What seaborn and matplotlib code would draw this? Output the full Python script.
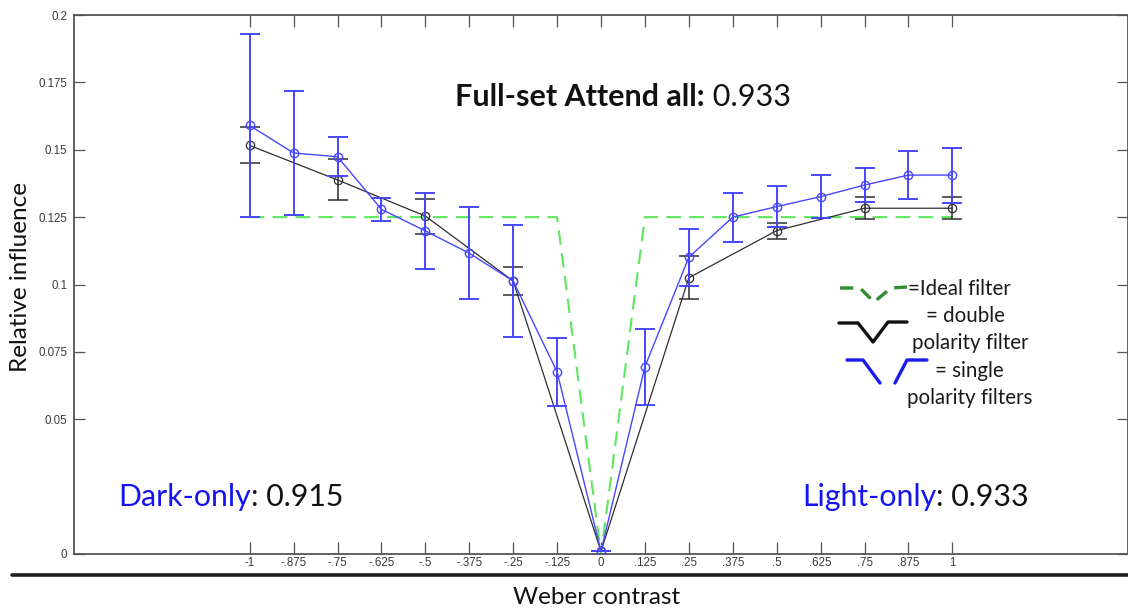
import matplotlib
matplotlib.use("Agg")
import matplotlib.pyplot as plt
import numpy as np
import pandas as pd
import seaborn as sns
from matplotlib.lines import Line2D

# Weber contrast levels and tick labels
contrast_levels = [-1, -0.875, -0.75, -0.625, -0.5, -0.375, -0.25, -0.125, 0,
                   0.125, 0.25, 0.375, 0.5, 0.625, 0.75, 0.875, 1]
x_tick_labels = ["-1", "-.875", "-.75", "-.625", "-.5", "-.375", "-.25", "-.125", "0",
                 ".125", ".25", ".375", ".5", ".625", ".75", ".875", "1"]
y_ticks = [0, 0.05, 0.075, 0.1, 0.125, 0.15, 0.175, 0.2]
y_tick_labels = ["0", "0.05", "0.075", "0.1", "0.125", "0.15", "0.175", "0.2"]

# Single polarity filters (blue): mean and error half-width
single_influence = [0.159, 0.1488, 0.1474, 0.1279, 0.1199, 0.1116, 0.1013, 0.0676, 0.001,
                    0.0695, 0.1101, 0.1250, 0.1289, 0.1326, 0.1369, 0.1406, 0.1406]
single_err = [0.034, 0.023, 0.0073, 0.0043, 0.014, 0.017, 0.0206, 0.0127, 0.0,
              0.0141, 0.0106, 0.0091, 0.0076, 0.008, 0.0063, 0.009, 0.0102]

# Double polarity filter (black)
double_contrast = [-1, -0.75, -0.5, -0.25, 0, 0.25, 0.5, 0.75, 1]
double_influence = [0.1516, 0.1388, 0.1254, 0.1013, 0.001, 0.1025, 0.1200, 0.1283, 0.1283]
double_err = [0.0067, 0.0076, 0.0065, 0.0052, 0.0, 0.008, 0.003, 0.0041, 0.0041]

# Ideal filter (green dashed)
ideal_influence = [0.125, 0.125, 0.125, 0.125, 0.125, 0.125, 0.125, 0.125, 0.0,
                   0.125, 0.125, 0.125, 0.125, 0.125, 0.125, 0.125, 0.125]

single_df = pd.DataFrame({"contrast": contrast_levels, "influence": single_influence})
double_df = pd.DataFrame({"contrast": double_contrast, "influence": double_influence})
ideal_df = pd.DataFrame({"contrast": contrast_levels, "influence": ideal_influence})

BLUE = "#4646ff"
BLACK = "#2e2e2e"
GREEN = "#5ee65e"
SPINE = "#555555"
TEXT_BLUE = "#1414f0"

sns.set_theme(style="ticks")
plt.rcParams["font.family"] = ["Lato", "DejaVu Sans"]

W, H = 1128, 609
fig = plt.figure(figsize=(W / 100, H / 100), dpi=100)
fig.patch.set_facecolor("white")


def fx(px):
    return px / W


def fy(py):
    return 1 - py / H


ax = fig.add_axes([fx(74), fy(554), (1128 - 74) / W, (554 - 15) / H])
ax.set_facecolor("white")

sns.lineplot(data=ideal_df, x="contrast", y="influence", ax=ax, color=GREEN,
             linewidth=1.5, dashes=False, zorder=1)
ax.lines[-1].set_dashes([7, 4])

ax.errorbar(double_contrast, double_influence, yerr=double_err, fmt="none",
            ecolor=BLACK, elinewidth=1.1, capsize=7, capthick=1.1, zorder=2)
sns.lineplot(data=double_df, x="contrast", y="influence", ax=ax, color=BLACK,
             linewidth=0.9, marker="o", markersize=6, markerfacecolor="none",
             markeredgecolor=BLACK, markeredgewidth=0.9, zorder=3)

ax.errorbar(contrast_levels, single_influence, yerr=single_err, fmt="none",
            ecolor=BLUE, elinewidth=1.4, capsize=7.5, capthick=1.4, zorder=4)
sns.lineplot(data=single_df, x="contrast", y="influence", ax=ax, color=BLUE,
             linewidth=1.0, marker="o", markersize=6, markerfacecolor="none",
             markeredgecolor=BLUE, markeredgewidth=1.0, zorder=5)

ax.set_xlim(-1.5, 1.5)
ax.set_ylim(0, 0.2)
ax.set_xticks(contrast_levels)
ax.set_xticklabels(x_tick_labels)
ax.set_yticks(y_ticks)
ax.set_yticklabels(y_tick_labels)
ax.set_xlabel("")
ax.set_ylabel("")

for lab in ax.get_xticklabels() + ax.get_yticklabels():
    lab.set_fontfamily(["Liberation Sans", "DejaVu Sans"])
    lab.set_fontsize(8.3)
    lab.set_color("#3a3a3a")

ax.tick_params(axis="x", direction="in", length=8.5, width=0.9, color=SPINE,
               top=True, bottom=True, pad=2.5)
ax.tick_params(axis="y", direction="in", length=8, width=0.9, color=SPINE,
               left=True, right=True, pad=5)
for s in ax.spines.values():
    s.set_color(SPINE)
    s.set_linewidth(1.3)
    s.set_visible(True)

# Axis titles
fig.text(fx(21), fy(277), "Relative influence", rotation=90, ha="center", va="center",
         fontsize=17.5, color="#111111")
fig.text(fx(597), fy(598), "Weber contrast", ha="center", va="center",
         fontsize=17.5, color="#111111")

# Separator rule under the axes
fig.add_artist(Line2D([fx(12), fx(1128)], [fy(575), fy(575)], transform=fig.transFigure,
                      color="#1e1e1e", linewidth=2.6))


def two_part(x_px, y_px, first, second, first_kw, second_kw):
    t1 = fig.text(fx(x_px), fy(y_px), first, ha="left", va="center", **first_kw)
    ax.annotate(second, xy=(1, 0), xycoords=t1, ha="left", va="bottom", **second_kw)


two_part(455, 97, "Full-set Attend all:", " 0.933",
         dict(fontsize=22, fontweight="bold", color="#111111"),
         dict(fontsize=22, color="#111111"))
two_part(118, 497, "Dark-only", ": 0.915",
         dict(fontsize=21.8, color=TEXT_BLUE),
         dict(fontsize=21.8, color="#111111"))
two_part(802, 497, "Light-only", ": 0.933",
         dict(fontsize=21.8, color=TEXT_BLUE),
         dict(fontsize=21.8, color="#111111"))

# Filter-shape key
key_shapes = [
    ([840, 860, 874, 891, 907], [288, 288, 302, 288, 287], "#2e8b2e", (0, (4, 2.5))),
    ([839, 858, 873, 888, 907], [323, 323, 342, 322, 322], "#111111", "-"),
    ([847, 863, 880], [360, 360, 383], "#1a1af0", "-"),
    ([895, 907, 927], [383, 360, 360], "#1a1af0", "-"),
]
for xs, ys, col, ls in key_shapes:
    fig.add_artist(Line2D([fx(v) for v in xs], [fy(v) for v in ys],
                          transform=fig.transFigure, color=col, linewidth=2.4,
                          linestyle=ls))

key_texts = [
    (908, 289, "=Ideal filter"),
    (926, 316, "= double"),
    (912, 343, "polarity filter"),
    (935, 371, "= single"),
    (907, 398, "polarity filters"),
]
for x_px, y_px, txt in key_texts:
    fig.text(fx(x_px), fy(y_px), txt, ha="left", va="center", fontsize=14.8,
             color="#1a1a1a")

fig.savefig("out.png", dpi=100, facecolor="white")
